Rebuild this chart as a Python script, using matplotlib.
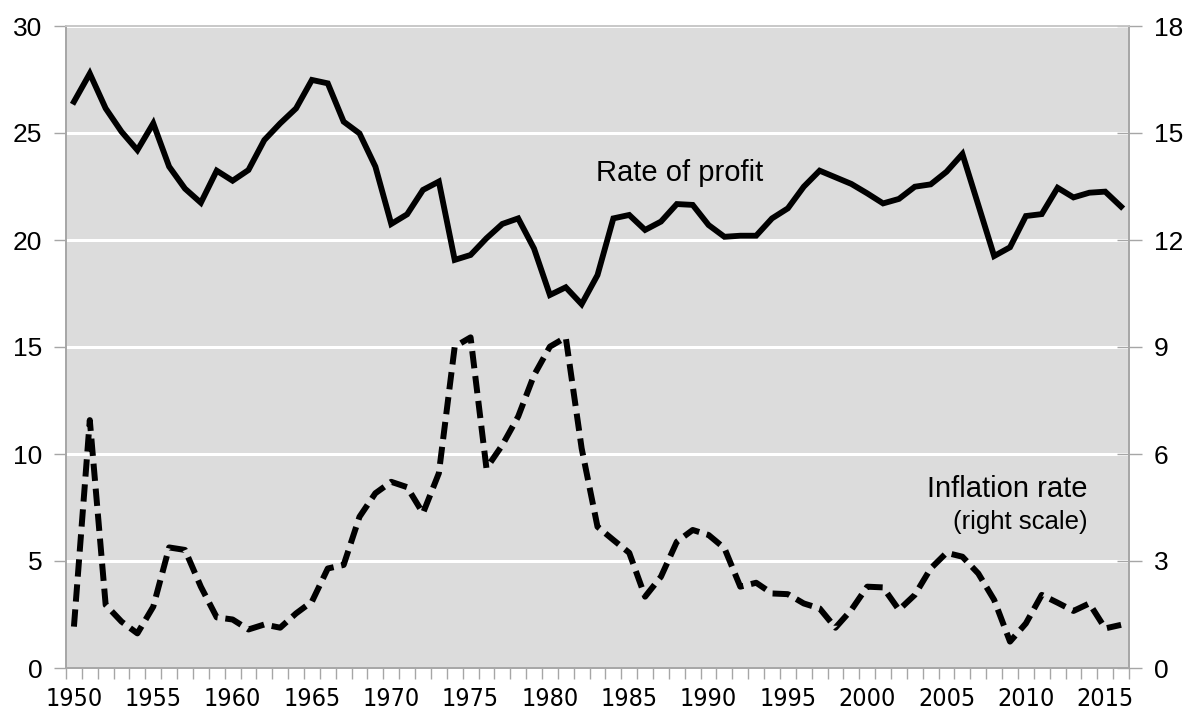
import matplotlib
matplotlib.use("Agg")
import matplotlib.pyplot as plt
from matplotlib import font_manager as fm
from matplotlib.ticker import FixedLocator

years = list(range(1950, 2017))

profit_rate = [
    26.46, 27.78, 26.15, 25.06, 24.20, 25.45, 23.43, 22.40, 21.74, 23.24,
    22.77, 23.27, 24.67, 25.45, 26.15, 27.48, 27.32, 25.53, 24.98, 23.43,
    20.75, 21.20, 22.34, 22.73, 19.07, 19.30, 20.08, 20.75, 21.01, 19.60,
    17.43, 17.79, 17.00, 18.36, 21.01, 21.17, 20.47, 20.86, 21.68, 21.64,
    20.70, 20.15, 20.20, 20.20, 21.01, 21.48, 22.49, 23.24, 22.93, 22.62,
    22.18, 21.71, 21.92, 22.49, 22.60, 23.19, 24.02, 21.64, 19.25, 19.66,
    21.12, 21.21, 22.44, 21.99, 22.21, 22.26, 21.56,
]

inflation_rate = [
    1.16, 6.95, 1.77, 1.30, 0.97, 1.72, 3.38, 3.31, 2.28, 1.42,
    1.36, 1.08, 1.22, 1.13, 1.53, 1.86, 2.79, 2.89, 4.24, 4.90,
    5.22, 5.07, 4.34, 5.46, 9.01, 9.27, 5.60, 6.25, 7.05, 8.21,
    9.01, 9.27, 6.16, 3.96, 3.59, 3.23, 2.00, 2.56, 3.54, 3.87,
    3.73, 3.36, 2.28, 2.39, 2.09, 2.07, 1.81, 1.67, 1.13, 1.63,
    2.28, 2.26, 1.63, 2.05, 2.79, 3.23, 3.12, 2.65, 1.91, 0.74,
    1.25, 2.05, 1.83, 1.60, 1.81, 1.11, 1.21,
]

left_ticks = [0, 5, 10, 15, 20, 25, 30]
right_ticks = [0, 3, 6, 9, 12, 15, 18]
x_label_years = list(range(1950, 2016, 5))

plt.rcParams['font.family'] = ['Liberation Sans', 'DejaVu Sans']

# pick a condensed face for the year labels if one is installed
_fonts = fm.fontManager.ttflist
_names = {f.name for f in _fonts}
if 'Liberation Sans Narrow' in _names:
    xlab_kw = dict(family=['Liberation Sans Narrow'], fontsize=20)
elif any(f.name == 'DejaVu Sans' and 'condensed' in str(f.stretch) for f in _fonts):
    xlab_kw = dict(family=['DejaVu Sans'], fontstretch='condensed', fontsize=18)
else:
    xlab_kw = dict(family=['Liberation Sans'], fontsize=17.5)

fig = plt.figure(figsize=(11.86, 7.17), dpi=100)
ax = fig.add_axes([66 / 1186, 1 - 668 / 717, (1129 - 66) / 1186, (668 - 26) / 717])
ax2 = ax.twinx()

bg = '#dcdcdc'
spine_c = '#a6a6a6'
ax.set_facecolor(bg)
ax2.patch.set_visible(False)

ax.set_xlim(years[0] - 0.5, years[-1] + 0.5)
ax.set_ylim(0, 30)
ax2.set_ylim(0, 18)
ax.set_yticks(left_ticks)
ax2.set_yticks(right_ticks)

ax.set_xticks(x_label_years)
ax.set_xticklabels([str(y) for y in x_label_years], **xlab_kw)
ax.xaxis.set_minor_locator(FixedLocator([y - 0.5 for y in years] + [years[-1] + 0.5]))
ax.tick_params(axis='x', which='major', length=0, pad=14)
ax.tick_params(axis='x', which='minor', length=8, width=1, color=spine_c, direction='out')
ax.tick_params(axis='y', which='major', length=9, width=1, color=spine_c,
               direction='out', labelsize=19, pad=8)
ax2.tick_params(axis='y', which='major', length=18, width=1, color=spine_c,
                direction='inout', labelsize=19, pad=9)

ax.grid(axis='y', color='white', linewidth=2.2)
ax.set_axisbelow(True)

for a in (ax, ax2):
    for s in ['left', 'right', 'bottom']:
        a.spines[s].set_color(spine_c)
        a.spines[s].set_linewidth(1.2)
    a.spines['top'].set_color('#c8c8c8')
    a.spines['top'].set_linewidth(1.2)

ax.plot(years, profit_rate, color='black', linewidth=4.2,
        solid_joinstyle='miter', zorder=3)
ax2.plot(years, inflation_rate, color='black', linewidth=4.3,
         dashes=(2.9, 1.3), dash_capstyle='butt', zorder=3)

ax.text(1988.2, 22.77, 'Rate of profit', fontsize=21, ha='center', va='baseline')
ax2.text(2013.9, 4.80, 'Inflation rate', fontsize=21, ha='right', va='baseline')
ax2.text(2013.9, 3.90, '(right scale)', fontsize=18.5, ha='right', va='baseline')

fig.savefig('out.png', dpi=100)
